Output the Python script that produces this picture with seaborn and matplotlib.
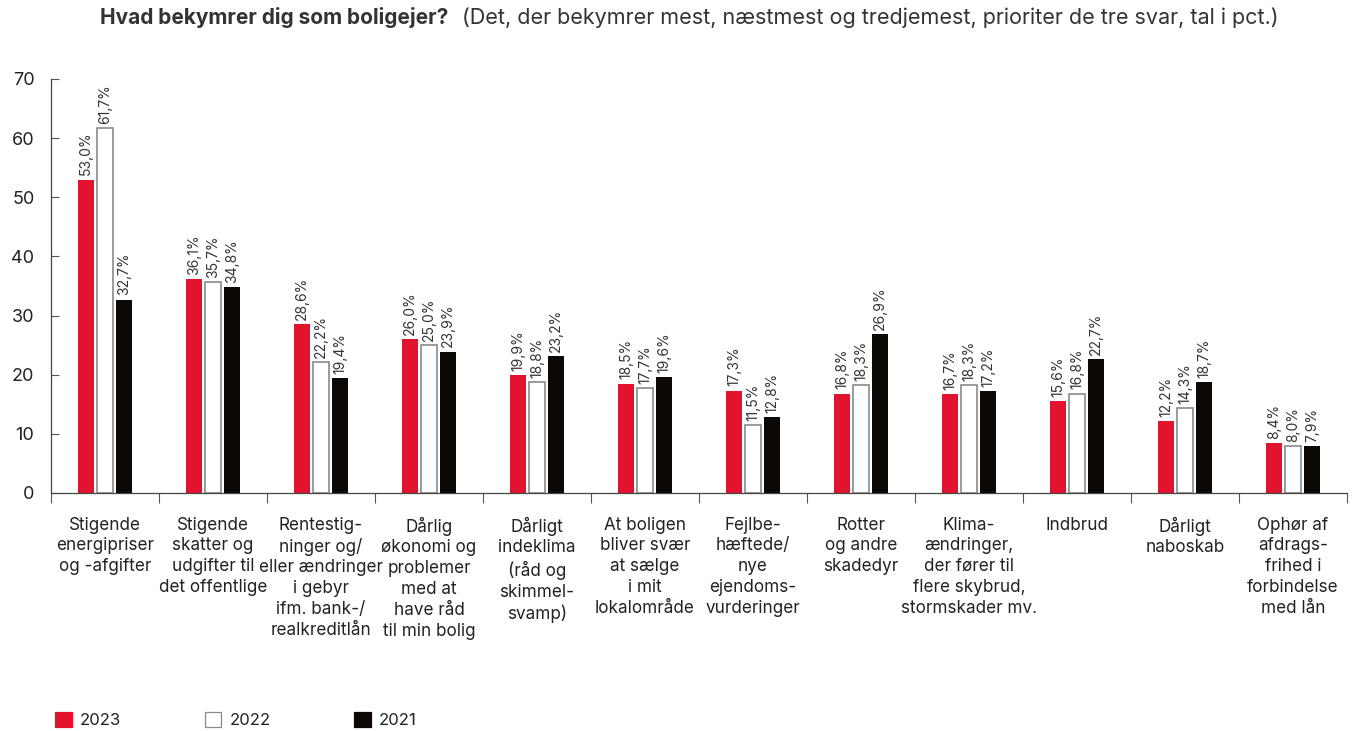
import matplotlib
matplotlib.use("Agg")
import matplotlib.pyplot as plt
from matplotlib.patches import Patch
import seaborn as sns
import pandas as pd

categories = [
    "Stigende\nenergipriser\nog -afgifter",
    "Stigende\nskatter og\nudgifter til\ndet offentlige",
    "Rentestig-\nninger og/\neller ændringer\ni gebyr\nifm. bank-/\nrealkreditlån",
    "Dårlig\nøkonomi og\nproblemer\nmed at\nhave råd\ntil min bolig",
    "Dårligt\nindeklima\n(råd og\nskimmel-\nsvamp)",
    "At boligen\nbliver svær\nat sælge\ni mit\nlokalområde",
    "Fejlbe-\nhæftede/\nnye\nejendoms-\nvurderinger",
    "Rotter\nog andre\nskadedyr",
    "Klima-\nændringer,\nder fører til\nflere skybrud,\nstormskader mv.",
    "Indbrud",
    "Dårligt\nnaboskab",
    "Ophør af\nafdrags-\nfrihed i\nforbindelse\nmed lån",
]
years = ["2023", "2022", "2021"]
v2023 = [53.0, 36.1, 28.6, 26.0, 19.9, 18.5, 17.3, 16.8, 16.7, 15.6, 12.2, 8.4]
v2022 = [61.7, 35.7, 22.2, 25.0, 18.8, 17.7, 11.5, 18.3, 18.3, 16.8, 14.3, 8.0]
v2021 = [32.7, 34.8, 19.4, 23.9, 23.2, 19.6, 12.8, 26.9, 17.2, 22.7, 18.7, 7.9]
yticks = [0, 10, 20, 30, 40, 50, 60, 70]
title_bold = "Hvad bekymrer dig som boligejer?"
title_rest = "(Det, der bekymrer mest, næstmest og tredjemest, prioriter de tre svar, tal i pct.)"

colors = {"2023": "#E2132D", "2022": "#FFFFFF", "2021": "#0C0805"}
edge_2022 = "#8A8A8A"

rows = []
for yr, vals in zip(years, [v2023, v2022, v2021]):
    for c, v in zip(categories, vals):
        rows.append({"cat": c, "year": yr, "val": v})
df = pd.DataFrame(rows)

sns.set_theme(style="white")
plt.rcParams["font.family"] = ["Inter", "DejaVu Sans"]
txt = "#222222"

fig = plt.figure(figsize=(13.61, 7.31), dpi=100)
ax = fig.add_axes([0.0375, 0.3256, 0.9522, 0.5664])

sns.barplot(data=df, x="cat", y="val", hue="year", hue_order=years, order=categories,
            palette=colors, width=0.53, gap=0.16, ax=ax, legend=False,
            linewidth=0, saturation=1)

for cont, yr, vals in zip(ax.containers, years, [v2023, v2022, v2021]):
    if yr == "2022":
        for b in cont:
            b.set_edgecolor(edge_2022)
            b.set_linewidth(1.2)
    ax.bar_label(cont, labels=[f"{v:.1f}%".replace(".", ",") for v in vals],
                 rotation=90, padding=3, fontsize=10, color="#333333")

ax.set_ylim(0, 70)
ax.set_xlim(-0.5, len(categories) - 0.5)
ax.set_yticks(yticks)
ax.set_yticklabels([str(t) for t in yticks], fontsize=13, color=txt)
ax.set_xlabel("")
ax.set_ylabel("")
ax.tick_params(axis="y", direction="in", length=6, width=0.8, color="#555555", pad=12, left=True)
ax.set_xticks(range(len(categories)))
ax.set_xticklabels(categories, fontsize=12.3, color=txt, linespacing=1.29, va="top")
ax.tick_params(axis="x", length=0, pad=17)
ax.set_xticks([i - 0.5 for i in range(len(categories) + 1)], minor=True)
ax.tick_params(axis="x", which="minor", direction="out", length=7, width=0.8, color="#555555", bottom=True)

for s in ["top", "right"]:
    ax.spines[s].set_visible(False)
for s in ["left", "bottom"]:
    ax.spines[s].set_color("#444444")
    ax.spines[s].set_linewidth(0.9)

# Title
fig.canvas.draw()
r = fig.canvas.get_renderer()
t1 = fig.text(100 / 1361, 1 - 18 / 731, title_bold, fontsize=15, fontweight="bold",
              color="#333333", va="center", ha="left")
bb = t1.get_window_extent(renderer=r)
fig.text((bb.x1 + 14) / 1361, 1 - 18 / 731, title_rest, fontsize=15.5, color="#333333",
         va="center", ha="left")

handles = [Patch(facecolor=colors[y], edgecolor=(edge_2022 if y == "2022" else colors[y]),
                 linewidth=0.9) for y in years]
fig.legend(handles, years, loc="center left", bbox_to_anchor=(40 / 1361, 1 - 720 / 731),
           ncol=3, frameon=False, fontsize=12, handlelength=1.0, handleheight=1.0,
           handletextpad=0.5, columnspacing=5.0, labelcolor=txt)

fig.savefig("out.png", dpi=100)
